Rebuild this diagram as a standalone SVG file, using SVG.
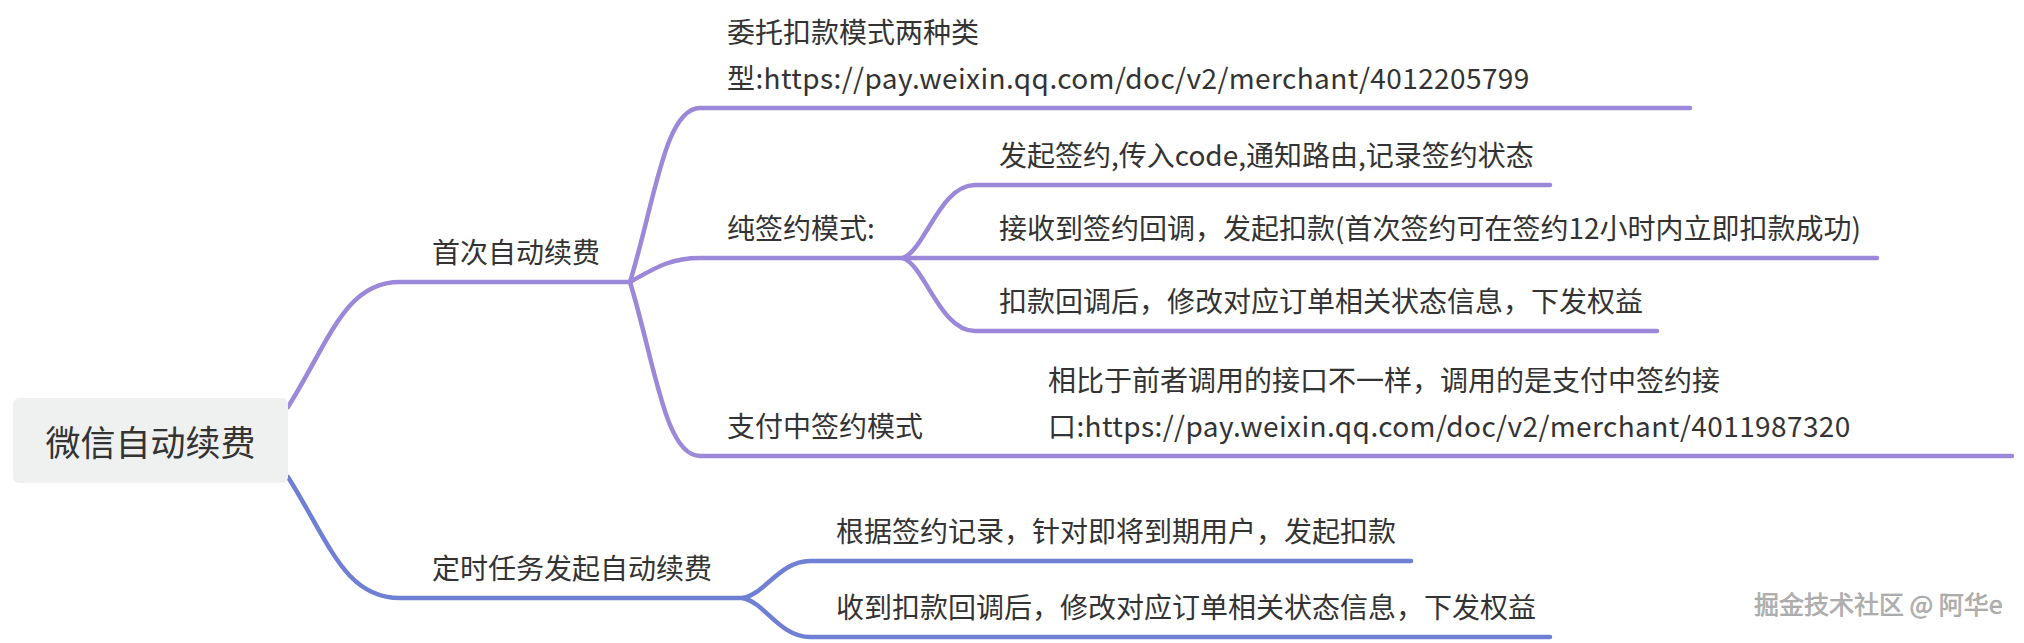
<svg xmlns="http://www.w3.org/2000/svg" width="2024" height="643" viewBox="0 0 2024 643">
<style>
.t{font-family:"Noto Sans CJK SC","Noto Sans",sans-serif;font-size:28px;fill:#333}
.u{letter-spacing:0.4px}
.root{font-family:"Noto Sans CJK SC","Noto Sans",sans-serif;font-size:35px;fill:#333}
.p{fill:none;stroke:#9b88d9;stroke-width:4.5;stroke-linecap:round}
.b{fill:none;stroke:#6e7fd4;stroke-width:4.5;stroke-linecap:round}
.wm{font-family:"Noto Sans CJK SC","Noto Sans",sans-serif;font-size:25px;fill:#b4b4b4;stroke:#9a9a9a;stroke-width:0.5}
</style>
<rect width="2024" height="643" fill="#fff"/>
<g id="connectors">
<path class="p" d="M288,407 C330,340 345,282 400,282 L630,282"/>
<path class="b" d="M288,477 C330,544 345,598 400,598 L743,598"/>
<path class="p" d="M630,282 C655,200 665,108 700,108 L1690,108"/>
<path class="p" d="M630,282 C655,268 670,258 700,258 L903,258"/>
<path class="p" d="M630,282 C655,364 665,456 700,456 L2012,456"/>
<path class="p" d="M903,258 C925,250 940,185 975,185 L1550,185"/>
<path class="p" d="M903,258 L1877,258"/>
<path class="p" d="M903,258 C925,266 940,331 975,331 L1657,331"/>
<path class="b" d="M743,598 C765,594 780,561 810,561 L1411,561"/>
<path class="b" d="M743,598 C765,603 780,637 810,637 L1550,637"/>
</g>
<g id="root">
<rect x="13" y="398" width="275" height="85" rx="6" fill="#eff0f0"/>
<text class="root" x="150.5" y="456" text-anchor="middle">微信自动续费</text>
</g>
<g id="n-first"><text class="t" x="432" y="263">首次自动续费</text></g>
<g id="n-types"><text class="t" x="727" y="43">委托扣款模式两种类</text><text class="t u" x="727" y="89">型:https://pay.weixin.qq.com/doc/v2/merchant/4012205799</text></g>
<g id="n-pure"><text class="t" x="727" y="239">纯签约模式:</text></g>
<g id="n-pure-1"><text class="t" x="999" y="166">发起签约,传入code,通知路由,记录签约状态</text></g>
<g id="n-pure-2"><text class="t" x="999" y="239">接收到签约回调，发起扣款(首次签约可在签约12小时内立即扣款成功)</text></g>
<g id="n-pure-3"><text class="t" x="999" y="312">扣款回调后，修改对应订单相关状态信息，下发权益</text></g>
<g id="n-pay"><text class="t" x="727" y="437">支付中签约模式</text></g>
<g id="n-pay-1"><text class="t" x="1048" y="391">相比于前者调用的接口不一样，调用的是支付中签约接</text><text class="t u" x="1048" y="437">口:https://pay.weixin.qq.com/doc/v2/merchant/4011987320</text></g>
<g id="n-timer"><text class="t" x="432" y="579">定时任务发起自动续费</text></g>
<g id="n-timer-1"><text class="t" x="836" y="542">根据签约记录，针对即将到期用户，发起扣款</text></g>
<g id="n-timer-2"><text class="t" x="836" y="618">收到扣款回调后，修改对应订单相关状态信息，下发权益</text></g>
<text class="wm" x="1754" y="614">掘金技术社区 @ 阿华e</text>
</svg>
